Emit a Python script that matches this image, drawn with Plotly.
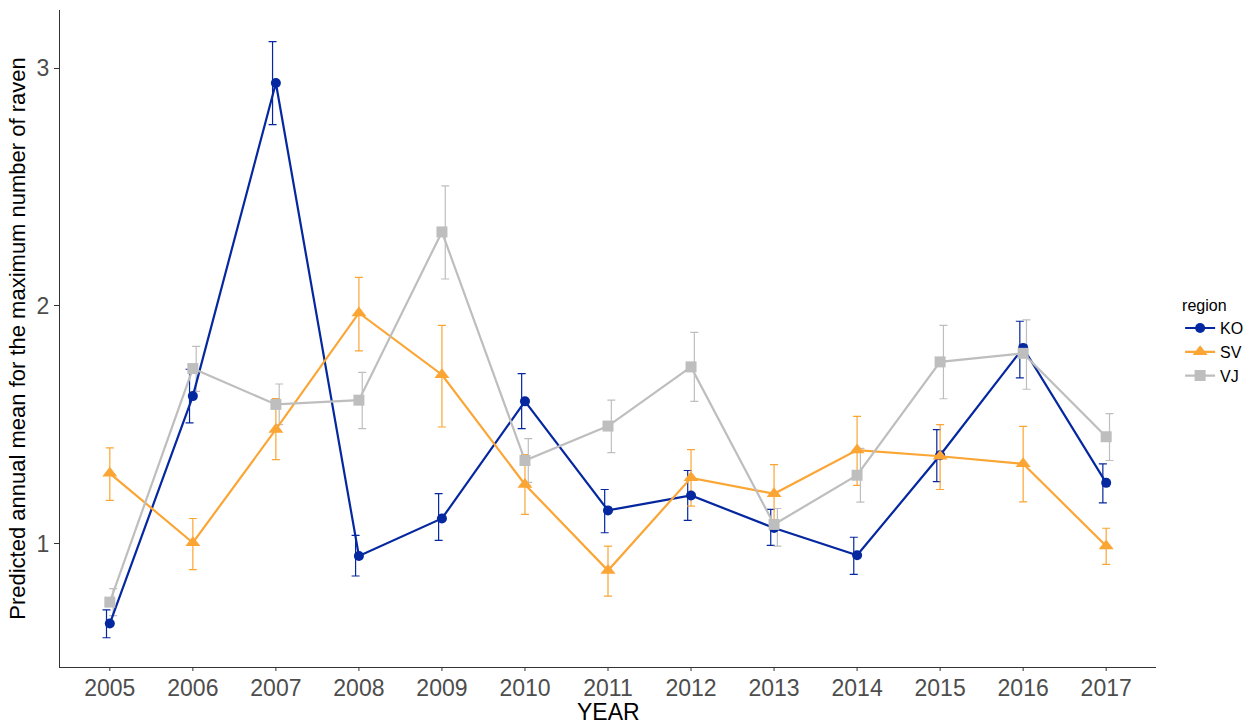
import plotly.graph_objects as go

years = list(range(2005, 2018))

ko_mean = [0.663, 1.620, 2.938, 0.947, 1.105, 1.598, 1.139, 1.202, 1.065, 0.950, 1.371, 1.823, 1.255]
ko_low = [0.603, 1.507, 2.763, 0.863, 1.013, 1.483, 1.045, 1.097, 0.992, 0.870, 1.260, 1.697, 1.171]
ko_high = [0.720, 1.733, 3.112, 1.034, 1.210, 1.715, 1.227, 1.307, 1.143, 1.026, 1.479, 1.935, 1.335]

sv_mean = [1.295, 1.003, 1.480, 1.970, 1.710, 1.248, 0.886, 1.276, 1.209, 1.393, 1.367, 1.335, 0.989]
sv_low = [1.181, 0.890, 1.353, 1.810, 1.490, 1.122, 0.778, 1.157, 1.086, 1.244, 1.227, 1.175, 0.912]
sv_high = [1.402, 1.105, 1.610, 2.120, 1.918, 1.374, 0.989, 1.395, 1.332, 1.535, 1.500, 1.493, 1.064]

vj_mean = [0.753, 1.736, 1.585, 1.603, 2.311, 1.349, 1.494, 1.743, 1.080, 1.287, 1.764, 1.800, 1.449]
vj_low = [0.696, 1.640, 1.500, 1.483, 2.113, 1.257, 1.382, 1.598, 0.989, 1.174, 1.609, 1.649, 1.349]
vj_high = [0.810, 1.829, 1.671, 1.720, 2.505, 1.441, 1.603, 1.888, 1.147, 1.400, 1.918, 1.941, 1.546]

regions = ["KO", "SV", "VJ"]
colors = {"KO": "#0527A0", "SV": "#FBA534", "VJ": "#BEBEBE"}
symbols = {"KO": "circle", "SV": "triangle-up", "VJ": "square"}
sizes = {"KO": 10, "SV": 13, "VJ": 11}
dodge = {"KO": -0.04, "SV": 0.0, "VJ": 0.04}
series = {
    "KO": (ko_mean, ko_low, ko_high),
    "SV": (sv_mean, sv_low, sv_high),
    "VJ": (vj_mean, vj_low, vj_high),
}

PLOT_H = 724 - 10 - 57  # plot area height in px

fig = go.Figure()

for r in regions:
    mean, low, high = series[r]
    # error bars, slightly dodged per region
    fig.add_trace(go.Scatter(
        x=[y + dodge[r] for y in years], y=mean, mode="markers",
        marker=dict(size=1, opacity=0, color=colors[r]),
        error_y=dict(type="data", symmetric=False,
                     array=[h - m for h, m in zip(high, mean)],
                     arrayminus=[m - l for m, l in zip(mean, low)],
                     color=colors[r], thickness=1.2, width=4),
        showlegend=False, hoverinfo="skip",
    ))

for r in regions:
    mean, _, _ = series[r]
    fig.add_trace(go.Scatter(
        x=years, y=mean, mode="lines+markers", name=r,
        line=dict(color=colors[r], width=2.2),
        marker=dict(symbol=symbols[r], size=sizes[r], color=colors[r]),
    ))

# short outside tick marks on the x axis
tick_shapes = [
    dict(type="line", xref="x", yref="paper", x0=yr, x1=yr, y0=0, y1=-4 / PLOT_H,
         line=dict(color="#333333", width=1))
    for yr in years
]

fig.update_layout(
    width=1252, height=724,
    margin=dict(l=60, r=96, t=10, b=57, autoexpand=False),
    plot_bgcolor="white", paper_bgcolor="white",
    font=dict(family="Liberation Sans, Arial, sans-serif", size=16, color="black"),
    legend=dict(
        title=dict(text="region", font=dict(size=16, color="black")),
        font=dict(size=16, color="black"),
        x=1.022, xanchor="left", y=0.495, yanchor="middle",
        itemwidth=30, tracegroupgap=0, bgcolor="rgba(0,0,0,0)",
    ),
    shapes=tick_shapes,
    annotations=[dict(
        text="YEAR", xref="paper", yref="paper", x=0.5, y=-45 / PLOT_H,
        xanchor="center", yanchor="middle", showarrow=False,
        font=dict(size=23, color="black"),
    )],
)

fig.update_xaxes(
    range=[2004.4, 2017.6], tickmode="array", tickvals=years,
    ticktext=[str(y) for y in years],
    showline=True, linecolor="#333333", linewidth=1,
    ticks="",
    tickfont=dict(size=23, color="#4D4D4D"),
    showgrid=False, zeroline=False, automargin=False,
)
fig.update_yaxes(
    range=[0.48, 3.245], tickmode="array", tickvals=[1, 2, 3],
    showline=True, linecolor="#333333", linewidth=1,
    ticks="outside", ticklen=5, tickcolor="#333333",
    tickfont=dict(size=23, color="#4D4D4D"),
    showgrid=False, zeroline=False, automargin=False,
    title=dict(text="Predicted annual mean for the maximum number of raven",
               font=dict(size=22, color="black"), standoff=4),
)

fig.write_html("out.html")
